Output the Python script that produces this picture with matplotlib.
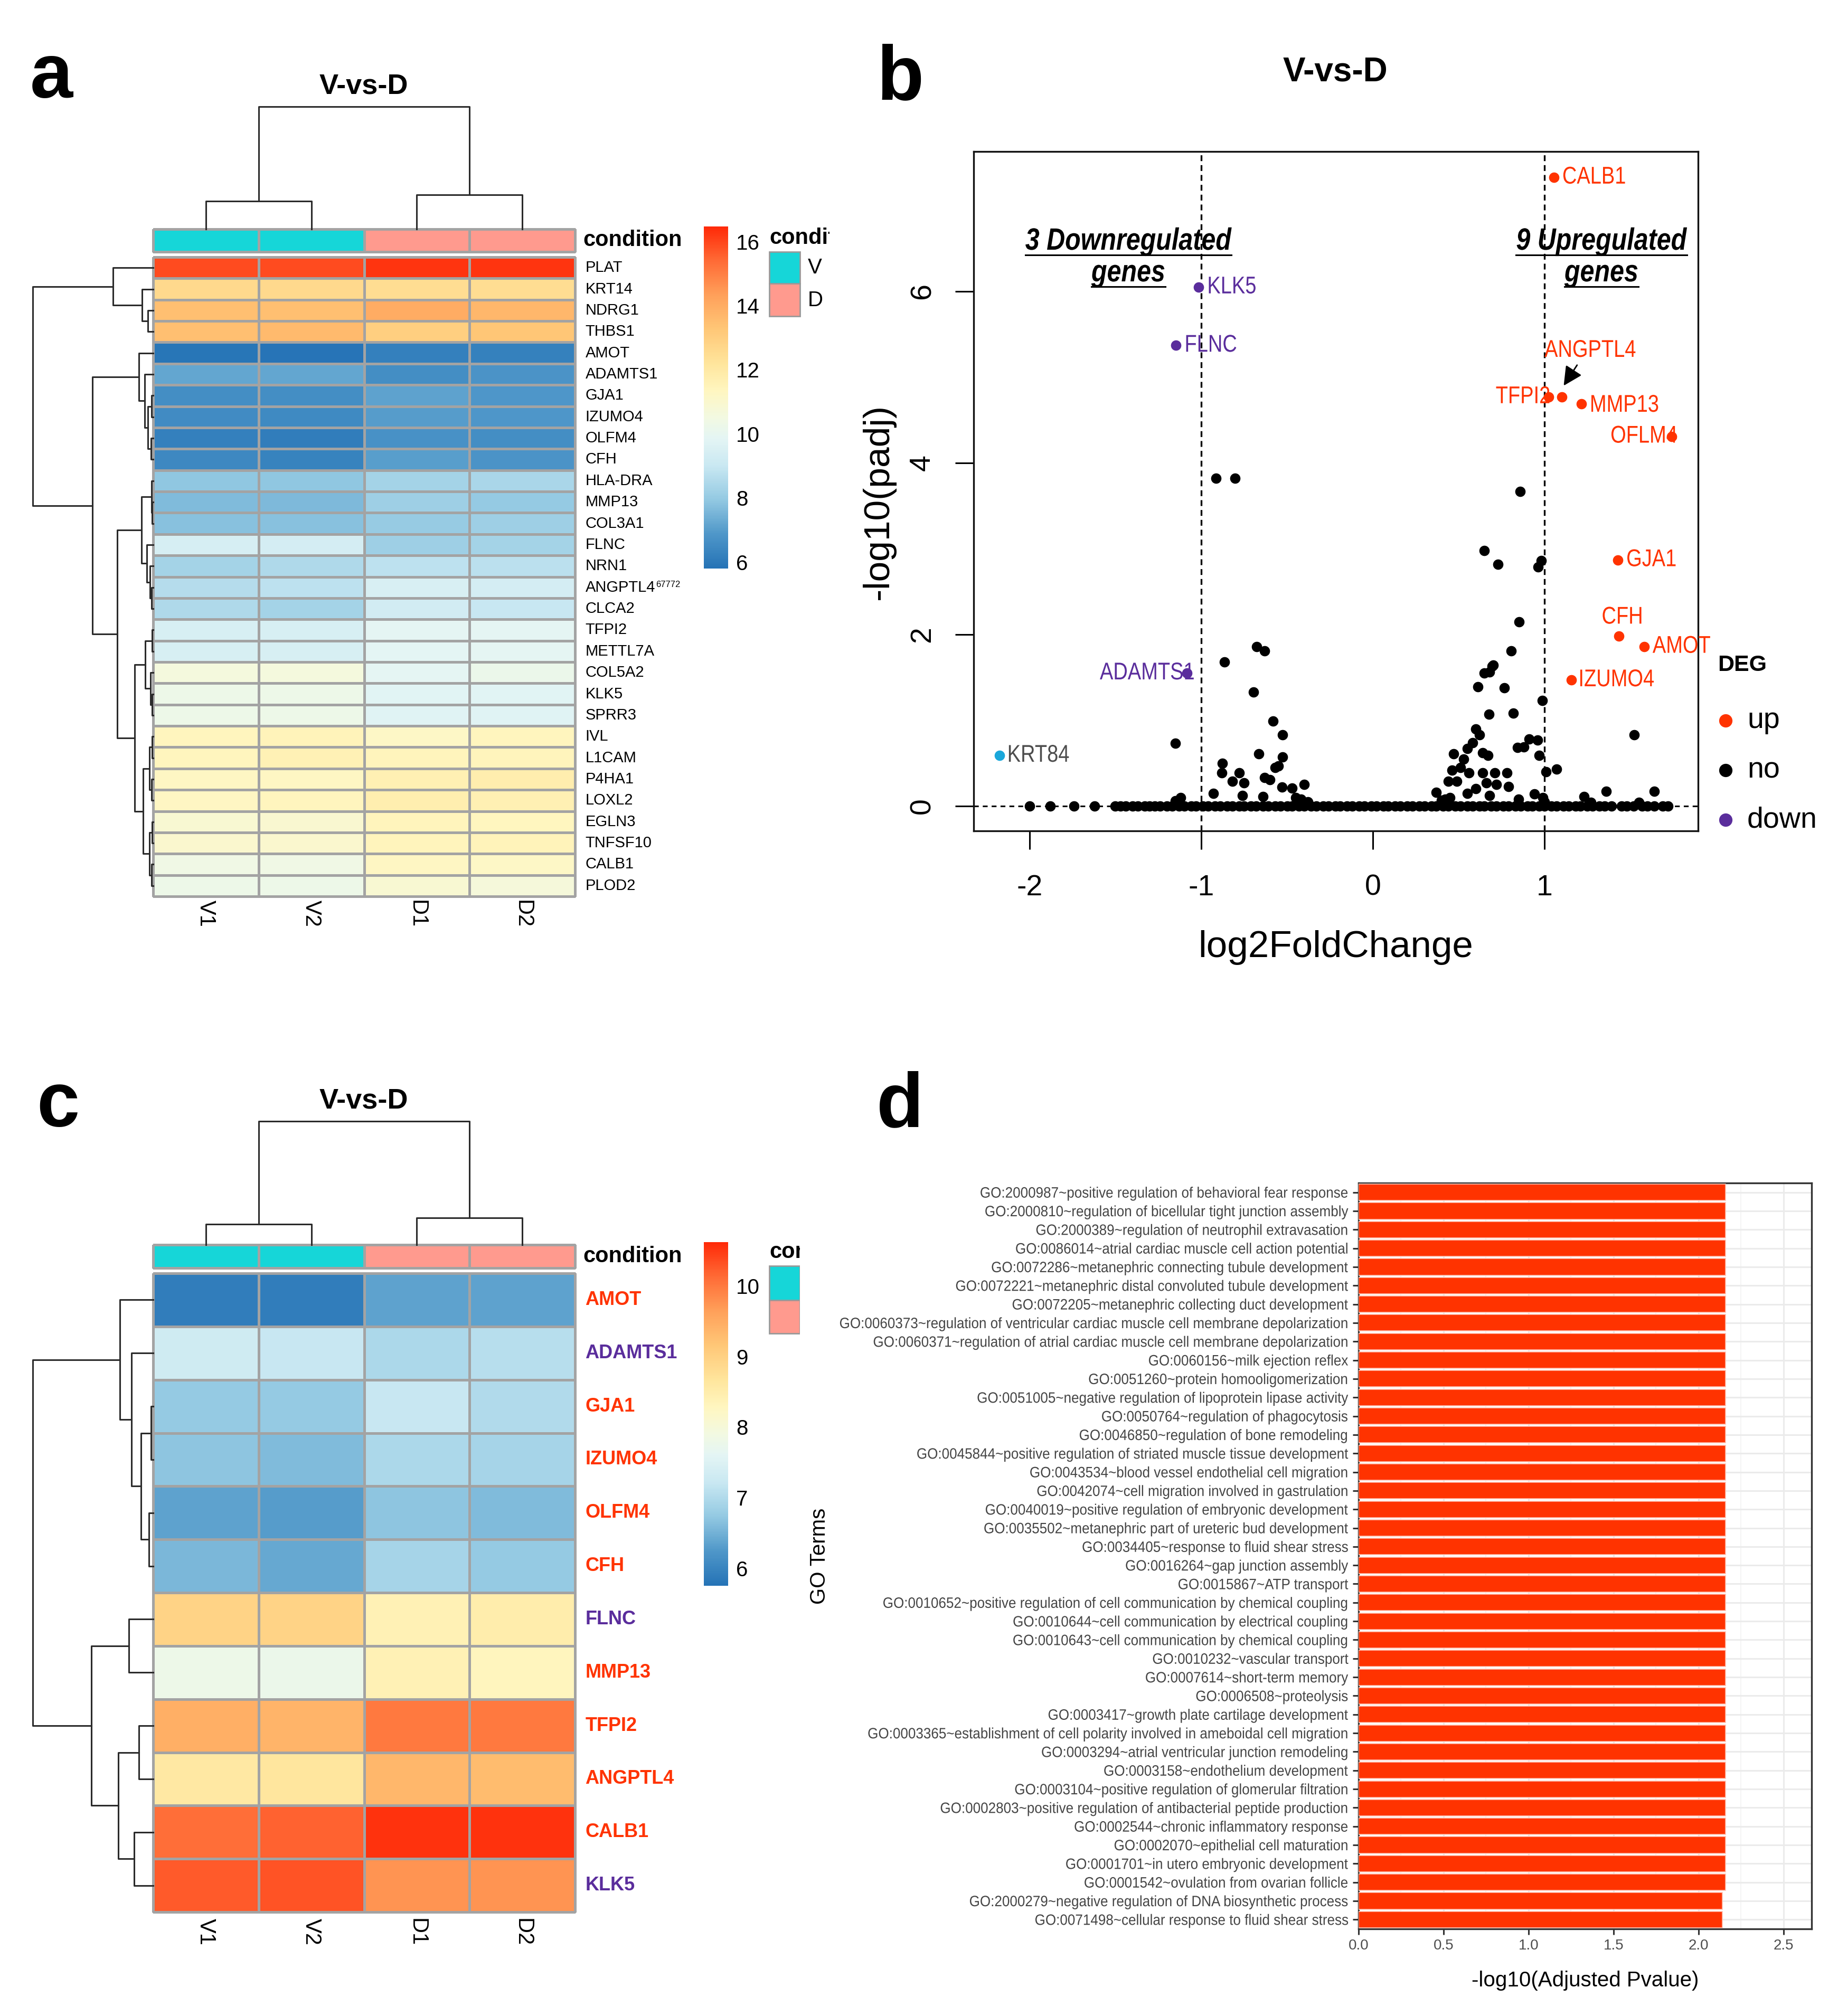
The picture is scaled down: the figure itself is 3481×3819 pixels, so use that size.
import numpy as np
import matplotlib
matplotlib.use('Agg')
import matplotlib.pyplot as plt
from matplotlib.colors import LinearSegmentedColormap, ListedColormap, Normalize
from matplotlib.cm import ScalarMappable
from matplotlib.patches import Rectangle
from matplotlib.lines import Line2D
from matplotlib.patheffects import AbstractPathEffect
from matplotlib.transforms import Affine2D

W, H, DPI = 3481, 3819, 100
SANS = ['Liberation Sans', 'DejaVu Sans']
plt.rcParams['font.family'] = SANS

# ---------------- panel a: all DEG-like genes ----------------
samples = ['V1', 'V2', 'D1', 'D2']
condition = ['V', 'V', 'D', 'D']
genes_a = ['PLAT', 'KRT14', 'NDRG1', 'THBS1', 'AMOT', 'ADAMTS1', 'GJA1', 'IZUMO4',
           'OLFM4', 'CFH', 'HLA-DRA', 'MMP13', 'COL3A1', 'FLNC', 'NRN1', 'ANGPTL4',
           'CLCA2', 'TFPI2', 'METTL7A', 'COL5A2', 'KLK5', 'SPRR3', 'IVL', 'L1CAM',
           'P4HA1', 'LOXL2', 'EGLN3', 'TNFSF10', 'CALB1', 'PLOD2']
expr_a = np.array([
    [15.9, 15.9, 16.3, 16.3],
    [12.6, 12.6, 12.5, 12.5],
    [13.5, 13.5, 14.0, 13.7],
    [13.5, 13.6, 13.0, 13.3],
    [5.90, 5.85, 6.20, 6.25],
    [7.20, 7.20, 6.60, 6.80],
    [6.60, 6.60, 7.10, 6.85],
    [6.55, 6.50, 7.00, 6.85],
    [6.20, 6.10, 6.70, 6.60],
    [6.45, 6.30, 7.05, 6.80],
    [7.90, 7.90, 8.30, 8.40],
    [7.65, 7.60, 8.15, 8.00],
    [7.80, 7.80, 8.05, 8.15],
    [9.40, 9.35, 8.15, 8.30],
    [8.30, 8.50, 8.80, 8.75],
    [8.60, 8.80, 9.50, 9.35],
    [8.50, 8.30, 9.30, 9.00],
    [9.45, 9.45, 9.90, 9.90],
    [9.45, 9.45, 9.85, 9.90],
    [10.6, 10.6, 9.90, 10.2],
    [10.3, 10.3, 9.80, 9.80],
    [10.3, 10.3, 9.75, 9.75],
    [11.4, 11.5, 11.2, 11.4],
    [11.4, 11.6, 11.45, 11.45],
    [11.3, 11.3, 11.65, 11.8],
    [11.3, 11.4, 11.75, 11.65],
    [10.9, 10.95, 11.45, 11.35],
    [11.0, 11.0, 11.45, 11.5],
    [10.4, 10.4, 11.3, 11.2],
    [10.3, 10.3, 10.9, 10.7],
])
superscripts_a = {'ANGPTL4': '67772'}
tree_a_rows = (1.0,
               (0.335, 'PLAT', (0.093, 'KRT14', (0.044, 'NDRG1', 'THBS1'))),
               (0.504,
                (0.118, 'AMOT', (0.071, 'ADAMTS1',
                                 (0.044, (0.012, 'GJA1', 'IZUMO4'), (0.018, 'OLFM4', 'CFH')))),
                (0.30,
                 (0.096, (0.015, 'HLA-DRA', (0.007, 'MMP13', 'COL3A1')),
                  (0.052, 'FLNC', (0.025, 'NRN1', (0.012, 'ANGPTL4', 'CLCA2')))),
                 (0.155,
                  (0.066, (0.007, 'TFPI2', 'METTL7A'), (0.022, 'COL5A2', (0.007, 'KLK5', 'SPRR3'))),
                  (0.085, (0.03, (0.01, 'IVL', 'L1CAM'), (0.012, 'P4HA1', 'LOXL2')),
                   (0.03, (0.01, 'EGLN3', 'TNFSF10'), (0.015, 'CALB1', 'PLOD2')))))))
tree_a_cols = (1.0, (0.23, 'V1', 'V2'), (0.28, 'D1', 'D2'))

# ---------------- panel c: the 12 DEGs ----------------
genes_c = ['AMOT', 'ADAMTS1', 'GJA1', 'IZUMO4', 'OLFM4', 'CFH', 'FLNC', 'MMP13',
           'TFPI2', 'ANGPTL4', 'CALB1', 'KLK5']
direction_c = ['up', 'down', 'up', 'up', 'up', 'up', 'down', 'up', 'up', 'up', 'up', 'down']
expr_c = np.array([
    [5.90, 5.90, 6.35, 6.35],
    [7.30, 7.20, 6.95, 7.05],
    [6.75, 6.75, 7.20, 7.00],
    [6.70, 6.60, 6.95, 6.90],
    [6.35, 6.30, 6.70, 6.60],
    [6.55, 6.40, 6.90, 6.75],
    [8.95, 8.95, 8.40, 8.50],
    [7.80, 7.75, 8.40, 8.30],
    [9.45, 9.40, 10.0, 10.0],
    [8.60, 8.65, 9.35, 9.30],
    [10.1, 10.2, 10.55, 10.55],
    [10.25, 10.3, 9.75, 9.75],
])
tree_c_rows = (1.0,
               (0.275, 'AMOT', (0.18, 'ADAMTS1',
                                (0.10, (0.017, 'GJA1', 'IZUMO4'), (0.035, 'OLFM4', 'CFH')))),
               (0.515, (0.20, 'FLNC', 'MMP13'),
                (0.29, (0.12, 'TFPI2', 'ANGPTL4'), (0.157, 'CALB1', 'KLK5'))))
tree_c_cols = (1.0, (0.165, 'V1', 'V2'), (0.22, 'D1', 'D2'))

# ---------------- panel b: volcano ----------------
up_genes = ['CALB1', 'TFPI2', 'ANGPTL4', 'MMP13', 'OFLM4', 'GJA1', 'CFH', 'AMOT', 'IZUMO4']
up_x = [1.054, 1.024, 1.100, 1.214, 1.740, 1.427, 1.434, 1.580, 1.158]
up_y = [7.33, 4.77, 4.77, 4.69, 4.31, 2.87, 1.98, 1.86, 1.47]
down_genes = ['KLK5', 'FLNC', 'ADAMTS1']
down_x = [-1.015, -1.147, -1.083]
down_y = [6.05, 5.37, 1.55]
other_genes = ['KRT84']
other_x = [-2.175]
other_y = [0.59]
no_x = [-0.915, -0.803, 0.859, 0.650, 0.728, 0.964, 0.982, 0.852, -0.676, -0.632,
        -0.866, 0.807, 0.695, 0.650, 0.680, 0.700, 0.613, 0.766, 0.676, 0.818,
        0.986, -0.695, -0.583, -0.527, -1.150, 1.524, -0.665, -0.526, -0.877, -0.550,
        -0.880, -0.778, -0.630, -0.820, -0.750, -0.400, -0.930, -0.760, -0.640, -0.530,
        -0.470, -1.120, -0.600, -0.570, 0.600, 0.620, 0.960, 0.880, 0.580, 0.550,
        0.470, 0.640, 0.670, 0.970, 0.530, 0.460, 0.510, 0.560, 0.640, 0.710,
        0.780, 1.010, 1.070, 0.440, 0.490, 0.660, 0.720, 0.790, 0.370, 0.940,
        0.990, 1.230, 1.360, 1.640, 0.911, 0.844, 0.600, 0.550, 0.420, 0.680,
        0.850, -0.420, -0.380, 0.400, 0.450, 1.000, 1.270, 1.550, -1.150, -0.450]
no_y = [3.82, 3.82, 3.67, 2.98, 2.82, 2.79, 2.86, 2.15, 1.86, 1.81,
        1.68, 1.81, 1.63, 1.55, 1.56, 1.64, 1.39, 1.38, 1.07, 1.08,
        1.23, 1.33, 0.99, 0.83, 0.73, 0.83, 0.61, 0.57, 0.50, 0.47,
        0.39, 0.39, 0.33, 0.29, 0.27, 0.25, 0.15, 0.12, 0.11, 0.22,
        0.21, 0.10, 0.31, 0.45, 0.90, 0.83, 0.77, 0.69, 0.74, 0.67,
        0.61, 0.62, 0.59, 0.59, 0.55, 0.42, 0.45, 0.39, 0.39, 0.39,
        0.39, 0.40, 0.43, 0.29, 0.29, 0.27, 0.25, 0.23, 0.16, 0.14,
        0.10, 0.11, 0.17, 0.17, 0.78, 0.68, 0.20, 0.15, 0.08, 0.12,
        0.08, 0.08, 0.05, 0.07, 0.10, 0.05, 0.04, 0.04, 0.06, 0.10]
# genes with padj ~ 1 sitting on the baseline
band_x = [-2.00, -1.88, -1.74, -1.62, -1.50, -1.47, -1.44, -1.40, -1.37, -1.33,
          -1.30, -1.27, -1.24, -1.20, -1.17, -1.13, -1.10, -1.06, -1.03, -0.99,
          -0.96, -0.92, -0.89, -0.85, -0.82, -0.78, -0.75, -0.71, -0.68, -0.64,
          -0.61, -0.57, -0.54, -0.50, -0.47, -0.43, -0.40, -0.36, -0.33, -0.29,
          -0.26, -0.22, -0.19, -0.15, -0.12, -0.08, -0.05, -0.01, 0.02, 0.06,
          0.09, 0.13, 0.16, 0.20, 0.23, 0.27, 0.30, 0.34, 0.37, 0.41,
          0.44, 0.48, 0.51, 0.55, 0.58, 0.62, 0.65, 0.69, 0.72, 0.76,
          0.79, 0.83, 0.86, 0.90, 0.93, 0.97, 1.00, 1.04, 1.07, 1.11,
          1.14, 1.18, 1.21, 1.25, 1.28, 1.32, 1.35, 1.39, 1.45, 1.48,
          1.52, 1.57, 1.60, 1.64, 1.69, 1.72]

# ---------------- panel d: GO enrichment ----------------
go_terms = [
    'GO:2000987~positive regulation of behavioral fear response',
    'GO:2000810~regulation of bicellular tight junction assembly',
    'GO:2000389~regulation of neutrophil extravasation',
    'GO:0086014~atrial cardiac muscle cell action potential',
    'GO:0072286~metanephric connecting tubule development',
    'GO:0072221~metanephric distal convoluted tubule development',
    'GO:0072205~metanephric collecting duct development',
    'GO:0060373~regulation of ventricular cardiac muscle cell membrane depolarization',
    'GO:0060371~regulation of atrial cardiac muscle cell membrane depolarization',
    'GO:0060156~milk ejection reflex',
    'GO:0051260~protein homooligomerization',
    'GO:0051005~negative regulation of lipoprotein lipase activity',
    'GO:0050764~regulation of phagocytosis',
    'GO:0046850~regulation of bone remodeling',
    'GO:0045844~positive regulation of striated muscle tissue development',
    'GO:0043534~blood vessel endothelial cell migration',
    'GO:0042074~cell migration involved in gastrulation',
    'GO:0040019~positive regulation of embryonic development',
    'GO:0035502~metanephric part of ureteric bud development',
    'GO:0034405~response to fluid shear stress',
    'GO:0016264~gap junction assembly',
    'GO:0015867~ATP transport',
    'GO:0010652~positive regulation of cell communication by chemical coupling',
    'GO:0010644~cell communication by electrical coupling',
    'GO:0010643~cell communication by chemical coupling',
    'GO:0010232~vascular transport',
    'GO:0007614~short-term memory',
    'GO:0006508~proteolysis',
    'GO:0003417~growth plate cartilage development',
    'GO:0003365~establishment of cell polarity involved in ameboidal cell migration',
    'GO:0003294~atrial ventricular junction remodeling',
    'GO:0003158~endothelium development',
    'GO:0003104~positive regulation of glomerular filtration',
    'GO:0002803~positive regulation of antibacterial peptide production',
    'GO:0002544~chronic inflammatory response',
    'GO:0002070~epithelial cell maturation',
    'GO:0001701~in utero embryonic development',
    'GO:0001542~ovulation from ovarian follicle',
    'GO:2000279~negative regulation of DNA biosynthetic process',
    'GO:0071498~cellular response to fluid shear stress',
]
go_values = [2.16] * 38 + [2.14, 2.14]

# ---------------- styling ----------------
UP, DOWN, KRT = '#FF3300', '#5A2D9C', '#1AA7DA'
VCOL, DCOL = '#16D6D8', '#FF9A8E'
CELL_EDGE = '#A3A3A3'
DEND = '#2B2B2B'
heat_cmap = LinearSegmentedColormap.from_list('heat', [
    (0.00, '#2573B6'), (0.10, '#4F97C9'), (0.20, '#93C9E2'), (0.30, '#C9E8F2'),
    (0.38, '#E4F5F4'), (0.44, '#F2F9E2'), (0.52, '#FFF6C0'), (0.60, '#FFE59C'),
    (0.70, '#FFC777'), (0.80, '#FFA05A'), (0.90, '#FF6B36'), (1.00, '#FF2A08')])


class HSqueeze(AbstractPathEffect):
    """Narrow the glyphs horizontally around the text anchor (condensed look)."""

    def __init__(self, text, sx):
        super().__init__()
        self.text = text
        self.sx = sx

    def draw_path(self, renderer, gc, tpath, affine, rgbFace=None):
        x0 = self.text.get_transform().transform(self.text.get_unitless_position())[0]
        aff = affine + Affine2D().translate(-x0, 0).scale(self.sx, 1).translate(x0, 0)
        renderer.draw_path(gc, tpath, aff, rgbFace)


def narrow(t, sx=0.83):
    t.set_path_effects([HSqueeze(t, sx)])
    return t


fig = plt.figure(figsize=(W / DPI, H / DPI), dpi=DPI)
fig.patch.set_facecolor('white')


def px_axes(x0, y0, x1, y1):
    return fig.add_axes([x0 / W, 1 - y1 / H, (x1 - x0) / W, (y1 - y0) / H])


def ptext(x, y, s, **kw):
    return fig.text(x / W, 1 - y / H, s, **kw)


def draw_tree(ax, node, pos, side):
    if isinstance(node, str):
        return pos[node], 0.0
    h, left, right = node
    p1, h1 = draw_tree(ax, left, pos, side)
    p2, h2 = draw_tree(ax, right, pos, side)
    if side == 'left':
        xs, ys = [h1, h, h, h2], [p1, p1, p2, p2]
    else:
        xs, ys = [p1, p1, p2, p2], [h1, h, h, h2]
    ax.plot(xs, ys, color=DEND, lw=2.2, clip_on=False, solid_capstyle='projecting')
    return (p1 + p2) / 2, h


def heat_panel(genes, expr, tree_rows, tree_cols, y_top, y_cond, y_cells, vmin, vmax,
               cbar_box, cticks, label_colors, label_weight, label_size, col_pad, sups=None):
    n = len(genes)
    x0, x1 = 290, 1089
    ax = px_axes(x0, y_cells[0], x1, y_cells[1])
    ax.pcolormesh(expr, cmap=heat_cmap, norm=Normalize(vmin, vmax),
                  edgecolors=CELL_EDGE, linewidth=2.2, clip_on=False)
    ax.set_xlim(0, len(samples))
    ax.set_ylim(n, 0)
    ax.axis('off')
    for i, g in enumerate(genes):
        t = ax.annotate(g, xy=(len(samples), i + 0.5), xytext=(14, 0), textcoords='offset points',
                        va='center', ha='left', fontsize=label_size, color=label_colors[i],
                        fontweight=label_weight)
        if sups and g in sups:
            fig.canvas.draw()
            bb = t.get_window_extent()
            ax.annotate(sups[g], xy=(len(samples), i + 0.5),
                        xytext=(14 + bb.width * 0.72 + 1, 4), textcoords='offset points',
                        va='center', ha='left', fontsize=12)
    for j, s in enumerate(samples):
        ax.annotate(s, xy=(j + 0.5, n), xytext=(0, -col_pad), textcoords='offset points',
                    va='top', ha='center', rotation=-90, fontsize=30)

    axc = px_axes(x0, y_cond[0], x1, y_cond[1])
    codes = np.array([[0 if c == 'V' else 1 for c in condition]])
    axc.pcolormesh(codes, cmap=ListedColormap([VCOL, DCOL]), vmin=0, vmax=1,
                   edgecolors=CELL_EDGE, linewidth=2.2, clip_on=False)
    axc.set_xlim(0, 4)
    axc.set_ylim(1, 0)
    axc.axis('off')
    axc.annotate('condition', xy=(4, 0.5), xytext=(11, 0), textcoords='offset points',
                 va='center', ha='left', fontsize=30, fontweight='bold')

    axt = px_axes(x0, y_top, x1, y_cond[0])
    draw_tree(axt, tree_cols, {s: j + 0.5 for j, s in enumerate(samples)}, 'top')
    axt.set_xlim(0, 4)
    axt.set_ylim(0, 1)
    axt.axis('off')

    axl = px_axes(62, y_cells[0], x0, y_cells[1])
    draw_tree(axl, tree_rows, {g: i + 0.5 for i, g in enumerate(genes)}, 'left')
    axl.set_xlim(1, 0)
    axl.set_ylim(n, 0)
    axl.axis('off')

    cax = px_axes(*cbar_box)
    cb = fig.colorbar(ScalarMappable(Normalize(vmin, vmax), heat_cmap), cax=cax, ticks=cticks)
    cb.outline.set_visible(False)
    cax.tick_params(length=0, labelsize=29, pad=11)
    return ax


# ---- panel a
heat_panel(genes_a, expr_a, tree_a_rows, tree_a_cols, 202, (434, 477), (487, 1698),
           5.8, 16.47, (1333, 429, 1379, 1077), [6, 8, 10, 12, 14, 16],
           ['black'] * len(genes_a), 'normal', 21, 5, superscripts_a)
ptext(97, 185, 'a', fontsize=105, fontweight='bold', ha='center', va='baseline')
ptext(689, 163, 'V-vs-D', fontsize=39, fontweight='bold', ha='center', va='center')

leg = px_axes(1440, 400, 1571, 640)
leg.set_xlim(1440, 1571)
leg.set_ylim(640, 400)
leg.axis('off')
leg.text(1457, 451, 'condition', fontsize=30, fontweight='bold', va='center', clip_on=True)
leg.add_patch(Rectangle((1457, 477), 58, 60, facecolor=VCOL, edgecolor='#999999', lw=2))
leg.add_patch(Rectangle((1457, 537), 58, 62, facecolor=DCOL, edgecolor='#999999', lw=2))
leg.text(1530, 507, 'V', fontsize=29, va='center', clip_on=True)
leg.text(1530, 569, 'D', fontsize=29, va='center', clip_on=True)

# ---- panel c
heat_panel(genes_c, expr_c, tree_c_rows, tree_c_cols, 2124, (2358, 2402), (2412, 3622),
           5.75, 10.62, (1333, 2353, 1379, 3004), [6, 7, 8, 9, 10],
           [UP if d == 'up' else DOWN for d in direction_c], 'bold', 26, 9)
ptext(110, 2134, 'c', fontsize=105, fontweight='bold', ha='center', va='baseline')
ptext(689, 2085, 'V-vs-D', fontsize=39, fontweight='bold', ha='center', va='center')

leg = px_axes(1440, 2330, 1515, 2560)
leg.set_xlim(1440, 1515)
leg.set_ylim(2560, 2330)
leg.axis('off')
leg.text(1457, 2372, 'condition', fontsize=30, fontweight='bold', va='center', clip_on=True)
leg.add_patch(Rectangle((1457, 2398), 58, 65, facecolor=VCOL, edgecolor='#999999', lw=2))
leg.add_patch(Rectangle((1457, 2463), 58, 63, facecolor=DCOL, edgecolor='#999999', lw=2))

# ---- panel b: volcano
axb = px_axes(1844, 287, 3216, 1574)
axb.set_xlim(-2.326, 1.895)
axb.set_ylim(-0.29, 7.63)
axb.axhline(0, color='black', lw=2.2, ls=(0, (3, 2.5)), zorder=1)
for xv in (-1, 1):
    axb.axvline(xv, color='black', lw=2.4, ls=(0, (3.3, 2.3)), zorder=1)
PT = 200
axb.scatter(band_x, [0.0] * len(band_x), s=PT, color='black', lw=0, zorder=2)
axb.scatter(no_x, no_y, s=PT, color='black', lw=0, zorder=2)
axb.scatter(up_x, up_y, s=PT, color=UP, lw=0, zorder=3)
axb.scatter(down_x, down_y, s=PT, color=DOWN, lw=0, zorder=3)
axb.scatter(other_x, other_y, s=PT, color=KRT, lw=0, zorder=3)

# label placement (offset in data units, alignment)
label_pos = {
    'CALB1': (0.05, 0.0, 'left'), 'TFPI2': (0.01, 0.0, 'right'),
    'ANGPTL4': (-0.10, 0.54, 'left'), 'MMP13': (0.05, -0.02, 'left'),
    'OFLM4': (0.035, 0.0, 'right'), 'GJA1': (0.05, 0.0, 'left'),
    'CFH': (0.02, 0.22, 'center'), 'AMOT': (0.05, 0.0, 'left'),
    'IZUMO4': (0.04, 0.0, 'left'), 'KLK5': (0.05, 0.0, 'left'),
    'FLNC': (0.05, 0.0, 'left'), 'ADAMTS1': (0.045, 0.0, 'right'),
    'KRT84': (0.045, 0.0, 'left'),
}
groups = [(up_genes, up_x, up_y, UP), (down_genes, down_x, down_y, DOWN),
          (other_genes, other_x, other_y, '#4D4D4D')]
for names, xs, ys, col in groups:
    for g, xv, yv in zip(names, xs, ys):
        dx, dy, ha = label_pos[g]
        narrow(axb.text(xv + dx, yv + dy, g, color=col, fontsize=33,
                        ha=ha, va='center', zorder=4))
axb.annotate('', xy=(1.112, 4.90), xytext=(1.19, 5.14),
             arrowprops=dict(arrowstyle='-|>', color='black', lw=2, mutation_scale=55,
                             shrinkA=0, shrinkB=0))

axb.set_xticks([-2, -1, 0, 1])
axb.set_xticklabels(['-2', '-1', '0', '1'])
axb.set_yticks([0, 2, 4, 6])
axb.set_yticklabels(['0', '2', '4', '6'], rotation=90, va='center')
axb.tick_params(axis='both', direction='out', length=25, width=2.2, labelsize=40)
axb.tick_params(axis='x', pad=34)
axb.tick_params(axis='y', pad=26)
for sp in axb.spines.values():
    sp.set_linewidth(2.4)
    sp.set_color('#111111')
axb.text(0.5, (1574 - 1795) / (1574 - 287), 'log2FoldChange', transform=axb.transAxes,
         ha='center', va='center', fontsize=51)
axb.text((1664 - 1844) / (3216 - 1844), (1574 - 950) / (1574 - 287), '-log10(padj)',
         transform=axb.transAxes, ha='center', va='center', rotation=90, fontsize=50)

ptext(1705, 188, 'b', fontsize=105, fontweight='bold', ha='center', va='baseline')
ptext(2529, 136, 'V-vs-D', fontsize=46, fontweight='bold', ha='center', va='center')

SQ_HEAD = 0.83
heads = []
for cx, lines in ((2137, ['3 Downregulated', 'genes']), (3033, ['9 Upregulated', 'genes'])):
    for k, s in enumerate(lines):
        t = ptext(cx, 458 + 60 * k, s, fontsize=42, fontweight='bold', fontstyle='italic',
                  ha='center', va='center')
        narrow(t, SQ_HEAD)
        heads.append(t)

# legend for DEG
ptext(3253, 1260, 'DEG', fontsize=31, fontweight='bold', ha='left', va='center')
legb = px_axes(3230, 1320, 3481, 1600)
legb.set_xlim(3230, 3481)
legb.set_ylim(1600, 1320)
legb.axis('off')
for yy, col, lab in ((1365, UP, 'up'), (1459, 'black', 'no'), (1553, DOWN, 'down')):
    legb.scatter([3268], [yy], s=330, color=col, lw=0)
    legb.text(3309, yy, lab, fontsize=40, va='center', ha='left')

# ---- panel d: GO bars
axd = px_axes(2573, 2241, 3431, 3654)
ypos = np.arange(len(go_terms))
axd.set_axisbelow(True)
axd.barh(ypos, go_values, height=0.88, color='#FF3300', edgecolor='#FFC2B2', lw=1.2, zorder=3)
axd.set_xlim(0, 2.665)
axd.set_ylim(len(go_terms) - 0.5, -0.5)
axd.set_yticks(ypos)
axd.set_yticklabels(go_terms, fontsize=20.5, color='#454545')
for t in axd.get_yticklabels():
    narrow(t, 0.915)
axd.set_xticks([0, 0.5, 1.0, 1.5, 2.0, 2.5])
axd.set_xticklabels(['0.0', '0.5', '1.0', '1.5', '2.0', '2.5'], fontsize=20, color='#4D4D4D')
axd.set_xticks([0.25, 0.75, 1.25, 1.75, 2.25], minor=True)
axd.grid(which='major', color='#EBEBEB', lw=2.2)
axd.grid(which='minor', axis='x', color='#F2F2F2', lw=1.2)
axd.tick_params(axis='both', which='major', length=8, width=2.2, color='#333333', pad=6)
axd.tick_params(axis='x', which='minor', length=0)
for sp in axd.spines.values():
    sp.set_linewidth(2.4)
    sp.set_color('#333333')
axd.text(0.5, (3654 - 3752) / (3654 - 2241), '-log10(Adjusted Pvalue)', transform=axd.transAxes,
         ha='center', va='center', fontsize=29)
ptext(1552, 2948, 'GO Terms', fontsize=29, rotation=90, ha='center', va='center')
ptext(1705, 2134, 'd', fontsize=105, fontweight='bold', ha='center', va='baseline')

# underline the two headings in the volcano (width of the narrowed text)
fig.canvas.draw()
for t in heads:
    bb = t.get_window_extent()
    cx = (bb.x0 + bb.x1) / 2
    half = (bb.x1 - bb.x0) / 2 * SQ_HEAD
    yl = bb.y0 + 2
    fig.add_artist(Line2D([(cx - half) / W, (cx + half) / W], [yl / H, yl / H],
                          transform=fig.transFigure, color='black', lw=2.2))

fig.savefig('out.png', dpi=DPI, facecolor='white')
